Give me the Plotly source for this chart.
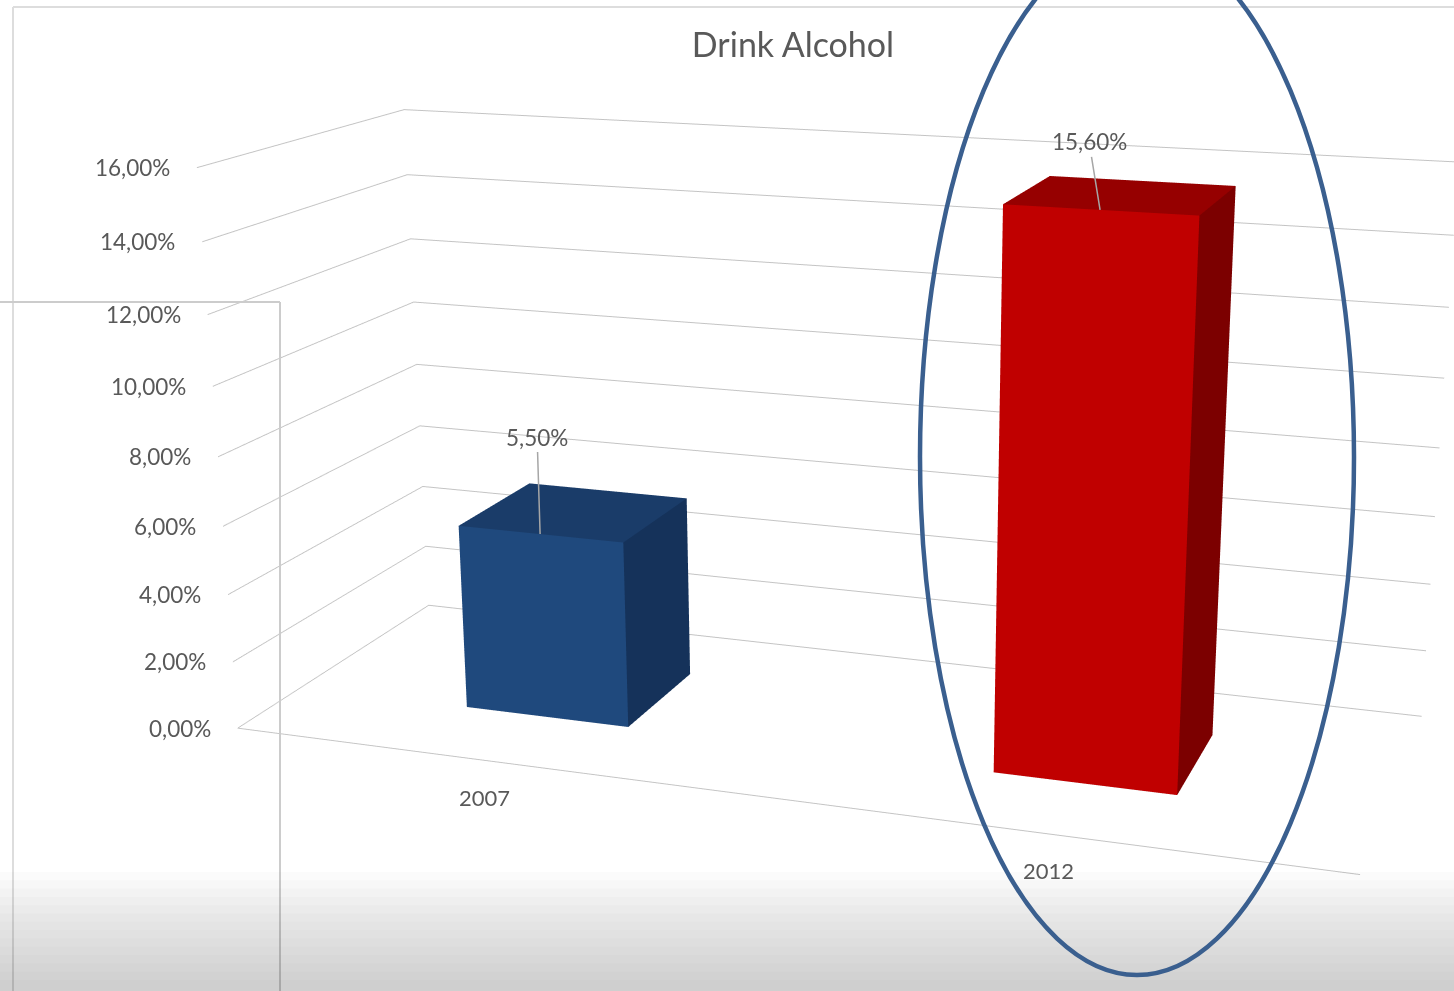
import numpy as np
import plotly.graph_objects as go

# ---- data ----
years = ["2007", "2012"]
shares = [0.055, 0.156]
share_text = ["5,50%", "15,60%"]
value_ticks = [0.00, 0.02, 0.04, 0.06, 0.08, 0.10, 0.12, 0.14, 0.16]

# ---- style ----
front_colors = ["#1F497D", "#C00000"]
top_colors = ["#1A3C69", "#960000"]
side_colors = ["#15325A", "#7C0000"]
label_offsets = [(-3, -97), (-11, -68)]
year_shifts = [(-6, -36), (-2, -36)]

# The scene canvas is larger than the window and shifted up, which puts the
# camera's optical centre where an Excel-style 3D chart has it and gives the
# long focal length of its mild perspective.
W, H = 1710, 2238
TOP_CUT = 559
GRAY = "#595959"
FONT = "Lato"

BAR_W = 0.32
DEPTH = (0.31, 0.71)


def px_x(px):
    return px / W


def px_y(py):
    return 1 - (py + TOP_CUT) / H


def pct(v):
    return f"{v * 100:.2f}".replace(".", ",") + "%"


def cuboid(xc, h, front, top, side, name):
    x0, x1 = xc - BAR_W / 2, xc + BAR_W / 2
    y0, y1 = DEPTH
    xs = [x0, x1, x1, x0, x0, x1, x1, x0]
    ys = [y0, y0, y1, y1, y0, y0, y1, y1]
    zs = [0, 0, 0, 0, h, h, h, h]
    faces = [
        ((0, 1, 2), side), ((0, 2, 3), side),    # floor
        ((4, 5, 6), top), ((4, 6, 7), top),      # top
        ((0, 1, 5), front), ((0, 5, 4), front),  # front
        ((3, 2, 6), side), ((3, 6, 7), side),    # back
        ((0, 3, 7), front), ((0, 7, 4), front),  # left
        ((1, 2, 6), side), ((1, 6, 5), side),    # right
    ]
    i, j, k = zip(*[f for f, _ in faces])
    return go.Mesh3d(
        x=xs, y=ys, z=zs, i=list(i), j=list(j), k=list(k),
        facecolor=[c for _, c in faces], flatshading=True,
        lighting=dict(ambient=1.0, diffuse=0.0, specular=0.0, roughness=1.0, fresnel=0.0),
        hoverinfo="skip", name=name, showscale=False,
    )


positions = [idx + 0.5 for idx in range(len(years))]
X_RANGE = [0, 2]
Y_RANGE = [0, 1]
Z_RANGE = [value_ticks[0], value_ticks[-1]]

fig = go.Figure()
for idx, (pos, val) in enumerate(zip(positions, shares)):
    fig.add_trace(cuboid(pos, val, front_colors[idx], top_colors[idx], side_colors[idx], years[idx]))

scene_annotations = []
# value labels with leader lines
for idx, (pos, val) in enumerate(zip(positions, shares)):
    ax, ay = label_offsets[idx]
    scene_annotations.append(dict(
        x=pos, y=DEPTH[0], z=val, text=share_text[idx],
        showarrow=True, arrowhead=0, arrowwidth=1.5, arrowcolor="#A6A6A6",
        ax=ax, ay=ay, standoff=0,
        font=dict(family=FONT, size=22.5, color=GRAY),
    ))
# value-axis labels along the front-left edge, right aligned
for v in value_ticks:
    scene_annotations.append(dict(
        x=X_RANGE[0], y=Y_RANGE[0], z=v, text=pct(v), showarrow=False,
        xanchor="right", yanchor="middle", xshift=-25,
        font=dict(family=FONT, size=22.5, color=GRAY),
    ))
# category labels under the front floor edge
for idx, pos in enumerate(positions):
    dx, dy = year_shifts[idx]
    scene_annotations.append(dict(
        x=pos, y=Y_RANGE[0], z=Z_RANGE[0], text=years[idx], showarrow=False,
        xanchor="center", yanchor="middle", xshift=dx, yshift=dy,
        font=dict(family=FONT, size=22, color=GRAY),
    ))

axis_common = dict(
    showbackground=False, zeroline=False, showspikes=False,
    title=dict(text=""), showticklabels=False, ticks="",
)

fig.update_layout(
    width=W, height=H,
    margin=dict(l=0, r=0, t=0, b=0),
    paper_bgcolor="white",
    showlegend=False,
    separators=",.",
    title=dict(
        text="Drink Alcohol", x=px_x(793), xanchor="center",
        y=px_y(45), yanchor="middle",
        font=dict(family=FONT, size=34, color=GRAY),
    ),
    scene=dict(
        domain=dict(x=[0, 1], y=[0, 1]),
        bgcolor="white",
        aspectmode="manual",
        aspectratio=dict(x=2.707, y=1.0, z=1.361),
        xaxis=dict(
            axis_common, range=X_RANGE, tickvals=positions,
            showgrid=False, showline=True, linecolor="#C4C4C4", linewidth=2,
        ),
        yaxis=dict(axis_common, range=Y_RANGE, showgrid=False, showline=False),
        zaxis=dict(
            axis_common, range=Z_RANGE, tickvals=value_ticks,
            showgrid=True, gridcolor="#C4C4C4", gridwidth=2, showline=False,
        ),
        camera=dict(
            projection=dict(type="perspective"),
            up=dict(x=0, y=0, z=1),
            eye=dict(x=2.024, y=-5.825, z=1.661),
            center=dict(x=0.0746, y=-0.0543, z=-0.2428),
        ),
        annotations=scene_annotations,
    ),
)

# chart-area frame and the slide panel edge
frame = dict(type="line", xref="paper", yref="paper", layer="above")
fig.add_shape(frame, x0=px_x(13), y0=px_y(7), x1=1, y1=px_y(7), line=dict(color="#DDDDDD", width=2))
fig.add_shape(frame, x0=px_x(13), y0=px_y(7), x1=px_x(13), y1=px_y(991), line=dict(color="#DDDDDD", width=2))
fig.add_shape(frame, x0=0, y0=px_y(302), x1=px_x(280), y1=px_y(302), line=dict(color="#CCCCCC", width=2))
fig.add_shape(frame, x0=px_x(280), y0=px_y(302), x1=px_x(280), y1=px_y(991), line=dict(color="#CCCCCC", width=2))

# soft grey falloff along the bottom of the screen
for top in np.linspace(872, 980, 14):
    fig.add_shape(type="rect", xref="paper", yref="paper", layer="above",
                  x0=0, x1=1, y0=px_y(991), y1=px_y(top),
                  fillcolor="rgba(110,110,110,0.028)", line=dict(width=0))

# highlight ring around the 2012 bar
fig.add_shape(type="circle", xref="paper", yref="paper", layer="above",
              x0=px_x(920), x1=px_x(1354), y0=px_y(975), y1=px_y(-61),
              line=dict(color="#3A5F8F", width=4.5), fillcolor="rgba(0,0,0,0)")

fig.write_html(
    "out.html",
    config=dict(displayModeBar=False),
    post_script=(
        "document.documentElement.style.overflow='hidden';"
        "document.body.style.overflow='hidden';"
        "var gd=document.getElementById('{plot_id}');"
        "gd.style.position='absolute';gd.style.left='0px';"
        "gd.style.top='-" + str(TOP_CUT) + "px';"
    ),
)
